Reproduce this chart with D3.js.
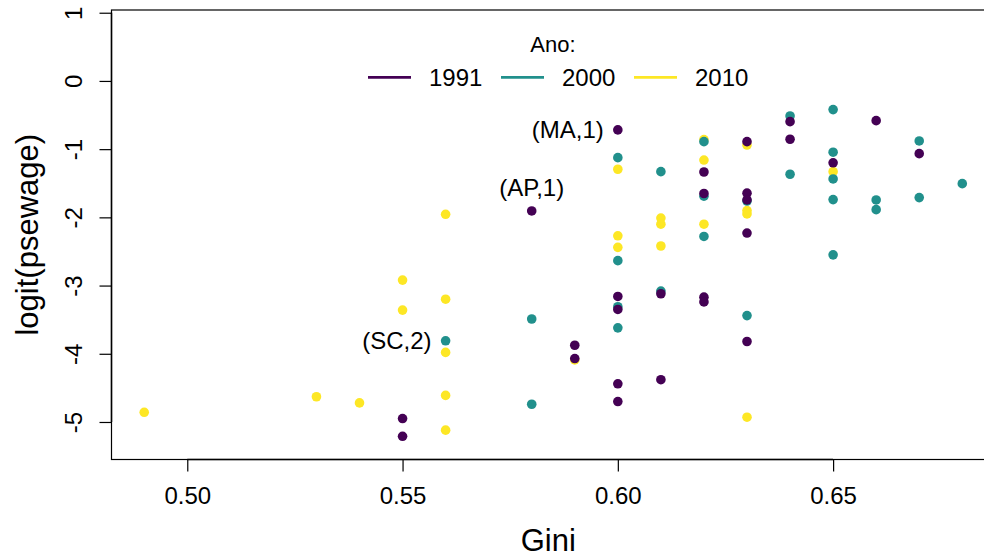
<!DOCTYPE html>
<html>
<head>
<meta charset="utf-8">
<script src="https://cdnjs.cloudflare.com/ajax/libs/d3/7.8.5/d3.min.js"></script>
<style>
  body { margin: 0; background: #fff; }
  text { font-family: "Liberation Sans", Arial, Helvetica, sans-serif; fill: #000; }
</style>
</head>
<body>
<div id="chart"></div>
<script>
// scatter of logit(psewage) against Gini, one colour per census year

const years = ["1991", "2000", "2010"];
const yearColors = ["#440154", "#21908C", "#FDE725"];

const gini1991 = [0.55, 0.55, 0.58, 0.59, 0.59, 0.60, 0.60, 0.60, 0.60, 0.60, 0.61, 0.61, 0.62,
    0.62, 0.62, 0.62, 0.63, 0.63, 0.63, 0.63, 0.63, 0.64, 0.64, 0.65, 0.66, 0.67];
const logit1991 = [-4.95, -5.21, -1.906, -3.875, -4.07, -0.718, -3.16, -3.35, -4.44, -4.70, -3.12, -4.38, -1.335,
    -1.65, -3.17, -3.24, -0.89, -1.645, -1.745, -2.23, -3.82, -0.597, -0.855, -1.20, -0.582, -1.066];

const gini2000 = [0.56, 0.58, 0.58, 0.60, 0.60, 0.60, 0.60, 0.61, 0.61, 0.62, 0.62, 0.62, 0.63,
    0.63, 0.64, 0.64, 0.65, 0.65, 0.65, 0.65, 0.65, 0.66, 0.66, 0.67, 0.67, 0.68];
const logit2000 = [-3.81, -3.49, -4.74, -1.125, -2.635, -3.31, -3.62, -1.33, -3.08, -0.89, -1.69, -2.28, -1.76,
    -3.44, -0.513, -1.368, -0.42, -1.045, -1.437, -1.74, -2.55, -1.745, -1.887, -0.88, -1.71, -1.506];

const gini2010 = [0.49, 0.53, 0.54, 0.55, 0.55, 0.56, 0.56, 0.56, 0.56, 0.56, 0.59, 0.60, 0.60,
    0.60, 0.61, 0.61, 0.61, 0.62, 0.62, 0.62, 0.63, 0.63, 0.63, 0.63, 0.65];
const logit2010 = [-4.858, -4.63, -4.72, -2.92, -3.36, -1.955, -3.20, -3.98, -4.61, -5.12, -4.09, -1.295, -2.27,
    -2.44, -2.01, -2.10, -2.42, -0.86, -1.16, -2.10, -0.94, -1.90, -1.95, -4.93, -1.33];

// labelled points: text, gini, logit, side of the point
const pointLabels = [
    ["(MA,1)", 0.60, -0.718, "left"],
    ["(AP,1)", 0.58, -1.906, "above"],
    ["(SC,2)", 0.56, -3.81, "left"]
];

const xTicks = [0.50, 0.55, 0.60, 0.65];
const yTicks = [1, 0, -1, -2, -3, -4, -5];

const width = 984, height = 558;
const box = { left: 111.5, top: 10, right: 995, bottom: 459.5 };

const svg = d3.select("#chart").append("svg")
    .attr("width", width)
    .attr("height", height);

const x = d3.scaleLinear().domain([0.4824, 0.6876]).range([box.left, box.right]);
const y = d3.scaleLinear().domain([-5.55, 1.04]).range([box.bottom, box.top]);

// points, 2010 drawn first so the older years sit on top
const series = [
    { year: years[2], color: yearColors[2], gini: gini2010, logit: logit2010 },
    { year: years[1], color: yearColors[1], gini: gini2000, logit: logit2000 },
    { year: years[0], color: yearColors[0], gini: gini1991, logit: logit1991 }
];

series.forEach(function(s) {
    svg.append("g").selectAll("circle")
        .data(s.gini.map((g, i) => [g, s.logit[i]]))
        .enter()
        .append("circle")
        .attr("cx", (d) => x(d[0]))
        .attr("cy", (d) => y(d[1]))
        .attr("r", 4.8)
        .attr("fill", s.color);
});

// plot box
svg.append("rect")
    .attr("x", box.left)
    .attr("y", box.top)
    .attr("width", box.right - box.left)
    .attr("height", box.bottom - box.top)
    .attr("fill", "none")
    .attr("stroke", "#000")
    .attr("stroke-width", 1.2);

// x axis
const xAxis = svg.append("g")
    .attr("transform", "translate(0," + box.bottom + ")")
    .call(d3.axisBottom(x).tickValues(xTicks).tickSize(12).tickFormat(d3.format(".2f")));
xAxis.select(".domain").remove();
xAxis.append("line")
    .attr("x1", x(xTicks[0])).attr("x2", x(xTicks[xTicks.length - 1]))
    .attr("stroke", "#000").attr("stroke-width", 1.5);
xAxis.selectAll(".tick line").attr("stroke", "#000").attr("stroke-width", 1.2);
xAxis.selectAll(".tick text")
    .attr("y", 44.5)
    .attr("dy", null)
    .style("font-size", "24px")
    .style("font-family", "Liberation Sans, Arial, sans-serif")
    .attr("fill", "#000");

// y axis, labels parallel to the axis as in base R
const yAxis = svg.append("g")
    .attr("transform", "translate(" + box.left + ",0)")
    .call(d3.axisLeft(y).tickValues(yTicks).tickSize(12).tickFormat(d3.format("d")));
yAxis.select(".domain").remove();
yAxis.append("line")
    .attr("y1", y(yTicks[0])).attr("y2", y(yTicks[yTicks.length - 1]))
    .attr("stroke", "#000").attr("stroke-width", 1.5);
yAxis.selectAll(".tick line").attr("stroke", "#000").attr("stroke-width", 1.2);
yAxis.selectAll(".tick text")
    .attr("x", null)
    .attr("dy", null)
    .attr("transform", "translate(-29.5,0) rotate(-90)")
    .style("text-anchor", "middle")
    .style("font-size", "24px")
    .style("font-family", "Liberation Sans, Arial, sans-serif")
    .attr("fill", "#000")
    .text((d) => d3.format("d")(d).replace("\u2212", "-"));

// axis titles
svg.append("text")
    .attr("x", (box.left + box.right) / 2 - 5)
    .attr("y", 551)
    .style("text-anchor", "middle")
    .style("font-size", "31px")
    .text("Gini");

svg.append("text")
    .attr("transform", "translate(38," + (box.top + box.bottom) / 2 + ") rotate(-90)")
    .style("text-anchor", "middle")
    .style("font-size", "31px")
    .text("logit(psewage)");

// point labels
pointLabels.forEach(function(l) {
    const t = svg.append("text")
        .style("font-size", "24px")
        .text(l[0]);
    if (l[3] === "left") {
        t.attr("x", x(l[1]) - 14)
            .attr("y", y(l[2]) + 8.5)
            .style("text-anchor", "end");
    } else {
        t.attr("x", x(l[1]))
            .attr("y", y(l[2]) - 15)
            .style("text-anchor", "middle");
    }
});

// legend
const legend = svg.append("g");
legend.append("text")
    .attr("x", 553)
    .attr("y", 51.5)
    .style("text-anchor", "middle")
    .style("font-size", "22px")
    .text("Ano:");

years.forEach(function(yr, i) {
    const x0 = 368 + i * 133;
    legend.append("line")
        .attr("x1", x0).attr("x2", x0 + 43)
        .attr("y1", 77.3).attr("y2", 77.3)
        .attr("stroke", yearColors[i])
        .attr("stroke-width", 2.8);
    legend.append("text")
        .attr("x", x0 + 61)
        .attr("y", 85.5)
        .style("font-size", "24px")
        .text(yr);
});
</script>
</body>
</html>
